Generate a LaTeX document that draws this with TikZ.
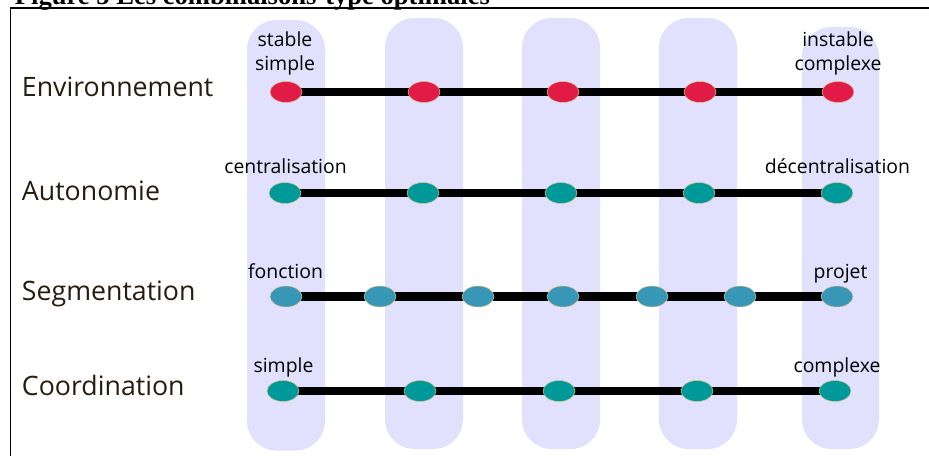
\documentclass[tikz,border=0pt]{standalone}
\usepackage{fontspec}
\setmainfont{Open Sans}
\newfontfamily\titrefont{Liberation Serif}
\usepackage{tikz}
\usetikzlibrary{shapes.geometric}
\definecolor{colonne}{RGB}{225,225,254}
\definecolor{rouge}{RGB}{226,27,70}
\definecolor{sarcelle}{RGB}{0,153,153}
\definecolor{bleu}{RGB}{56,150,183}
\definecolor{bord}{RGB}{214,196,140}
\definecolor{brun}{RGB}{40,28,16}
\pgfdeclarelayer{fond}
\pgfdeclarelayer{ligne}
\pgfsetlayers{fond,ligne,main}

\begin{document}
\begin{tikzpicture}[x=0.025cm,y=-0.025cm,
  col/.style={fill=colonne,rounded corners=21pt},
  dot/.style={ellipse,draw=bord,line width=0.4pt,inner sep=0pt,minimum width=22.7pt,minimum height=14.9pt},
  barre/.style={line width=5.7pt},
  lab/.style={anchor=base,font=\fontsize{13.8}{17}\selectfont},
  axe/.style={anchor=base west,text=brun,font=\fontsize{19}{23}\selectfont}]
\useasboundingbox (0,0) rectangle (929,455);
% titre et cadre
\node[anchor=base west,font=\titrefont\bfseries\fontsize{18.9}{22}\selectfont] (titre) at (10,4.5) {Figure 5 Les combinaisons-type optimales};
\draw[line width=1.4pt] (10.5,470) -- (10.5,8) -- (940,8);
% colonnes
\begin{pgfonlayer}{fond}
\fill[col] (247,20) rectangle (325,450.5);
\fill[col] (385,18) rectangle (463,449);
\fill[col] (522,18) rectangle (600,449);
\fill[col] (659,18) rectangle (737,449);
\fill[col] (802,27) rectangle (879,449);
\end{pgfonlayer}
% Environnement
\node[axe] (env) at (17,96) {Environnement};
\foreach \x [count=\i] in {286,424,563,700,838}
  \node[dot,fill=rouge] (e\i) at (\x,92) {};
\node[lab] at (285,46.5) {stable};
\node[lab] at (285,70) {simple};
\node[lab] at (838,46) {instable};
\node[lab] at (838,70) {complexe};
% Autonomie
\node[axe] (aut) at (17,200) {Autonomie};
\foreach \x [count=\i] in {285,423,561,699,837}
  \node[dot,fill=sarcelle] (a\i) at (\x,193) {};
\node[lab] at (285.5,173) {centralisation};
\node[lab] at (837.5,173) {décentralisation};
% Segmentation
\node[axe] (seg) at (17,300) {Segmentation};
\foreach \x [count=\i] in {286,380,478,563,652,740,837}
  \node[dot,fill=bleu] (s\i) at (\x,296.5) {};
\node[lab] at (285.5,278) {fonction};
\node[lab] at (840.5,278) {projet};
% Coordination
\node[axe] (coo) at (17,395) {Coordination};
\foreach \x [count=\i] in {283,420,559,697,835}
  \node[dot,fill=sarcelle] (c\i) at (\x,391) {};
\node[lab] at (283.5,372) {simple};
\node[lab] at (837,372) {complexe};
% barres
\begin{pgfonlayer}{ligne}
\foreach \i/\j in {1/2,2/3,3/4,4/5}{
  \draw[barre] (e\i.center) -- (e\j.center);
  \draw[barre] (a\i.center) -- (a\j.center);
  \draw[barre] (c\i.center) -- (c\j.center);
}
\foreach \i/\j in {1/2,2/3,3/4,4/5,5/6,6/7}
  \draw[barre] (s\i.center) -- (s\j.center);
\end{pgfonlayer}
\end{tikzpicture}
\end{document}
